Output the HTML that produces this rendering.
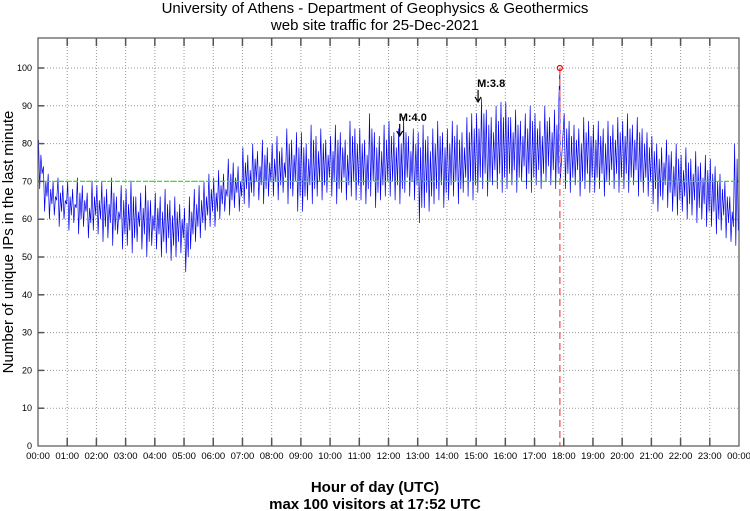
<!DOCTYPE html>
<html><head><meta charset="utf-8"><style>
body{margin:0;background:#fff;width:750px;height:511px;overflow:hidden}
svg{display:block;font-family:"Liberation Sans",sans-serif}
</style></head><body>
<svg id="chart" width="750" height="511">
<text x="375" y="13" text-anchor="middle" font-size="15">University of Athens - Department of Geophysics &amp; Geothermics</text>
<text x="375" y="30" text-anchor="middle" font-size="15">web site traffic for 25-Dec-2021</text>
<g id="grid"></g>
<g id="series"></g>
<g id="axes"></g>
<text x="375" y="492" text-anchor="middle" font-size="15" font-weight="bold">Hour of day (UTC)</text>
<text x="375" y="509" text-anchor="middle" font-size="15" font-weight="bold">max 100 visitors at 17:52 UTC</text>
<text transform="translate(13,242) rotate(-90)" text-anchor="middle" font-size="15">Number of unique IPs in the last minute</text>
</svg>
<script>
const hours=["00:00","01:00","02:00","03:00","04:00","05:00","06:00","07:00","08:00","09:00","10:00","11:00","12:00","13:00","14:00","15:00","16:00","17:00","18:00","19:00","20:00","21:00","22:00","23:00","00:00"];
const yTicks=[0,10,20,30,40,50,60,70,80,90,100];
const hiVals=[81,74,72,70,71,69,70,68,71,69,67,70,69,70,68,71,66,69,68,70,66,67,69,65,67,66,68,65,66,64,63,66,68,69,70,72,71,73,72,76,75,74,79,77,80,78,81,79,80,82,79,84,81,83,83,80,85,82,84,81,82,85,83,81,86,84,84,81,88,83,82,85,86,83,84,87,82,84,83,85,82,84,86,83,84,86,85,83,87,88,88,92,89,87,90,91,91,87,89,86,88,90,88,86,90,87,89,92,88,86,85,84,87,86,85,86,84,86,85,87,86,88,85,87,84,83,82,80,79,81,78,80,77,79,76,78,75,77,76,74,72,70,66,80];
const loVals=[68,62,60,61,58,60,57,59,56,58,55,57,56,54,55,53,56,52,53,51,54,52,50,53,52,50,51,49,50,51,46,52,54,55,57,58,58,60,62,61,63,62,64,63,66,65,64,66,66,65,67,64,66,62,62,65,64,66,65,67,66,64,67,65,66,65,65,64,66,63,65,66,66,65,64,67,66,65,59,63,62,64,65,63,65,66,64,67,66,65,67,68,66,69,68,67,68,69,67,70,68,67,69,68,70,69,68,70,68,67,69,66,68,67,67,68,66,69,68,67,68,67,69,66,67,66,64,62,65,63,62,61,62,60,61,59,60,58,58,56,57,55,54,53];
const refLevel=70;
const maxMinute=17*60+52, maxValue=100;
const quakes=[{label:"M:4.0",minute:12*60+23,value:86},{label:"M:3.8",minute:15*60+4,value:95}];
const NS="http://www.w3.org/2000/svg";
const X0=38,X1=739,Y0=446,PPU=3.78,TOP=38;
const xs=m=>X0+(X1-X0)*m/1440;
const ys=v=>Y0-v*PPU;
function mk(tag,attrs,parent){const e=document.createElementNS(NS,tag);for(const k in attrs)e.setAttribute(k,attrs[k]);parent.appendChild(e);return e;}
const grid=document.getElementById('grid'),axes=document.getElementById('axes'),ser=document.getElementById('series');
hours.forEach((h,i)=>{const x=xs(i*60);
 if(i>0&&i<24){const l=mk('line',{x1:x,x2:x,y1:TOP,y2:Y0,stroke:'#999','stroke-dasharray':'1,2','stroke-width':1},grid);
 
 
 const t1=mk('line',{x1:x,x2:x,y1:Y0,y2:Y0-8,stroke:'#555','stroke-width':1.5},axes);
 
 
 const t2=mk('line',{x1:x,x2:x,y1:TOP,y2:TOP+8,stroke:'#555','stroke-width':1.5},axes);
 
 }
 const tx=mk('text',{x:x,y:Y0+13,'text-anchor':'middle','font-size':9.5,fill:'#000'},axes);tx.textContent=h;
 
 
});
yTicks.forEach(v=>{const y=ys(v);
 if(v>0){const l=mk('line',{x1:X0,x2:X1,y1:y,y2:y,stroke:'#999','stroke-dasharray':'1,2','stroke-width':1},grid);
 
 
 const t=mk('line',{x1:X0,x2:X0+6,y1:y,y2:y,stroke:'#555','stroke-width':1.5},axes);
 
 }
 const tx=mk('text',{x:X0-6,y:y+3,'text-anchor':'end','font-size':9,fill:'#000'},axes);tx.textContent=v;
 
 
});
const fr=mk('rect',{x:X0,y:TOP,width:X1-X0,height:Y0-TOP,fill:'none',stroke:'#555','stroke-width':1.2},axes);


let pts=[];
hiVals.forEach((h,i)=>{
 let m=i*10;
 let hv=h, lv=loVals[i];
 if(maxMinute>=m&&maxMinute<m+10){pts.push([xs(maxMinute-2),ys(hv)]);pts.push([xs(maxMinute),ys(maxValue)]);pts.push([xs(maxMinute+1),ys(lv)]);}
 else{pts.push([xs(m+1),ys(hv)]);pts.push([xs(m+3.5),ys(lv)]);pts.push([xs(m+6),ys(hv-4)]);pts.push([xs(m+8.5),ys(lv+4)]);}
});
const pl=mk('polyline',{points:pts.map(p=>p[0].toFixed(1)+','+p[1].toFixed(1)).join(' '),fill:'none',stroke:'#0000ee','stroke-width':0.7},ser);


const ref=mk('line',{x1:X0,x2:X1,y1:ys(refLevel),y2:ys(refLevel),stroke:'#22ee22','stroke-dasharray':'5,2','stroke-width':1.3},ser);


const mx=mk('line',{x1:xs(maxMinute),x2:xs(maxMinute),y1:ys(maxValue),y2:Y0,stroke:'#f07070','stroke-dasharray':'7,4','stroke-width':1.5},ser);


const c=mk('circle',{cx:xs(maxMinute),cy:ys(maxValue),r:2.5,fill:'none',stroke:'#e00','stroke-width':1.2},ser);


quakes.forEach(q=>{const x=xs(q.minute),y=ys(q.value);
 const a=mk('path',{d:`M${x},${y+3}V${y+15}M${x-3},${y+10}L${x},${y+15}L${x+3},${y+10}`,fill:'none',stroke:'#000','stroke-width':1.2},ser);
 
 
 const t=mk('text',{x:x-1,y:y,'font-size':11,'font-weight':'bold'},ser);t.textContent=q.label;
 
 
});
</script>
</body></html>
